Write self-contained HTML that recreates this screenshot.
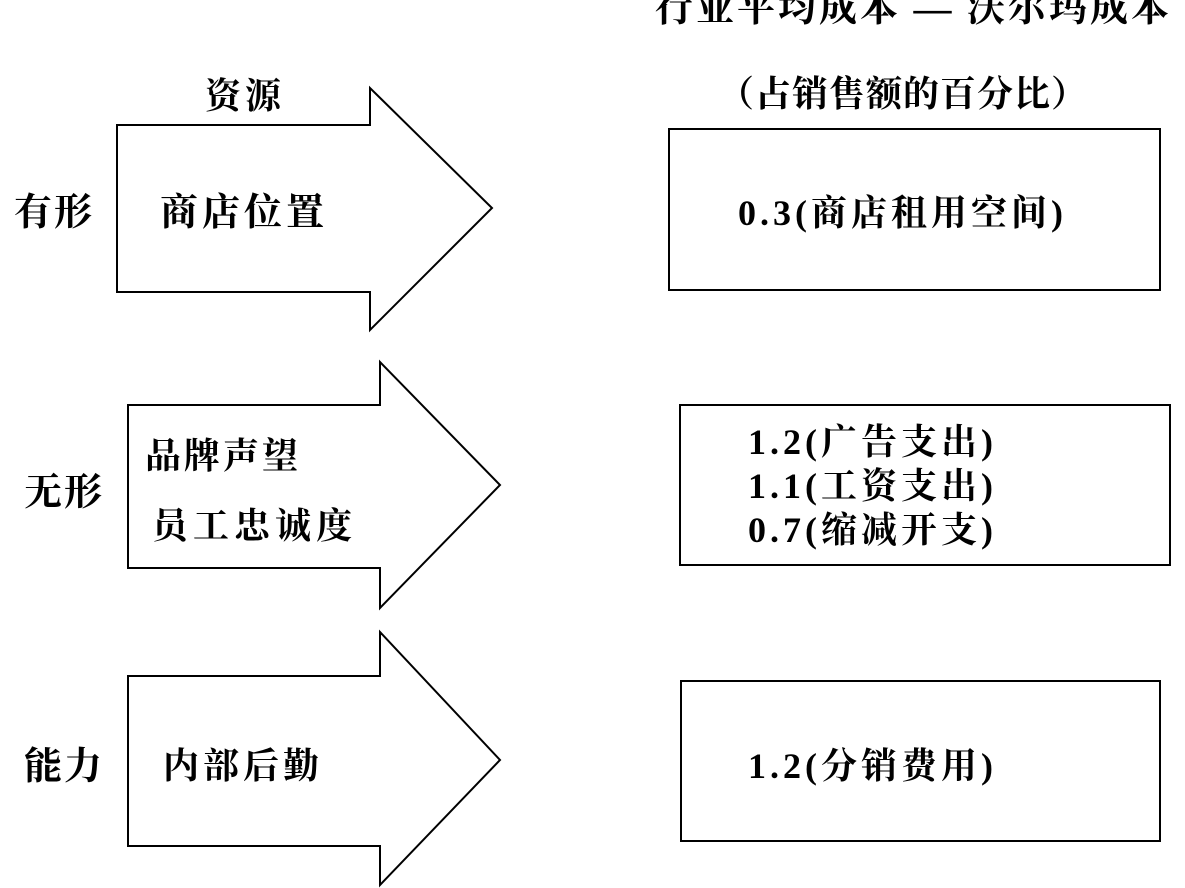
<!DOCTYPE html>
<html><head><meta charset="utf-8"><style>
body{margin:0;width:1185px;height:888px;background:#fff;overflow:hidden;position:relative;font-family:"Liberation Serif","Noto Serif CJK SC",serif;color:#000}
.t{position:absolute;white-space:nowrap;font-weight:bold;line-height:1}
.b{position:absolute;border:2px solid #000;box-sizing:border-box}
</style></head><body>
<svg width="1185" height="888" style="position:absolute;left:0;top:0" fill="none" stroke="#000" stroke-width="2">
<polygon points="117,125 370,125 370,88 492,208 370,330 370,292 117,292"/>
<polygon points="128,405 380,405 380,362 500,485 380,608 380,568 128,568"/>
<polygon points="128,676 380,676 380,632 500,760 380,885 380,846 128,846"/>
</svg>
<div class="t" style="left:655px;top:-10px;font-size:38px;letter-spacing:3px">行业平均成本 — 沃尔玛成本</div>
<div class="t" style="left:718px;top:76px;font-size:36px;letter-spacing:1px">（占销售额的百分比）</div>
<div class="t" style="left:205px;top:78px;font-size:36px;letter-spacing:4px">资源</div>
<div class="t" style="left:14px;top:194px;font-size:38px;letter-spacing:2px">有形</div>
<div class="t" style="left:160px;top:194px;font-size:38px;letter-spacing:4px">商店位置</div>
<div class="t" style="left:24px;top:474px;font-size:38px;letter-spacing:2px">无形</div>
<div class="t" style="left:145px;top:438px;font-size:36px;letter-spacing:3px">品牌声望</div>
<div class="t" style="left:152px;top:508px;font-size:36px;letter-spacing:5px">员工忠诚度</div>
<div class="t" style="left:24px;top:748px;font-size:38px;letter-spacing:2px">能力</div>
<div class="t" style="left:163px;top:748px;font-size:36px;letter-spacing:4px">内部后勤</div>
<div class="b" style="left:668px;top:128px;width:493px;height:163px"></div>
<div class="t" style="left:738px;top:195px;font-size:36px;letter-spacing:4px">0.3(商店租用空间)</div>
<div class="b" style="left:679px;top:404px;width:492px;height:162px"></div>
<div class="t" style="left:748px;top:420px;font-size:36px;line-height:44px;letter-spacing:4px">1.2(广告支出)<br>1.1(工资支出)<br>0.7(缩减开支)</div>
<div class="b" style="left:680px;top:680px;width:481px;height:162px"></div>
<div class="t" style="left:748px;top:748px;font-size:36px;letter-spacing:4px">1.2(分销费用)</div>
</body></html>
